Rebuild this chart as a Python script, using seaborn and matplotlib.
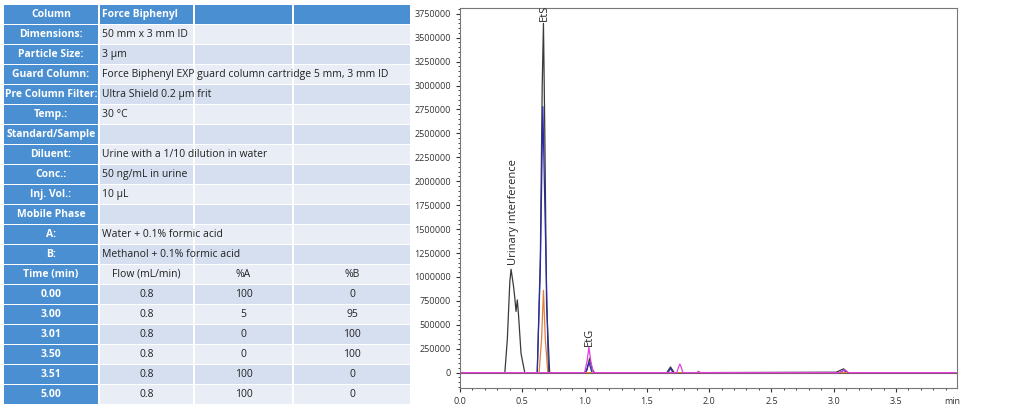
import numpy as np
import pandas as pd
import matplotlib
matplotlib.use("Agg")
import matplotlib.pyplot as plt
from matplotlib.patches import Rectangle
from matplotlib.ticker import MultipleLocator, FuncFormatter
import seaborn as sns

sns.set_style("white")
plt.rcParams['font.family'] = ['Open Sans', 'DejaVu Sans']

# chromatogram traces (time in min, signal)
black_t = [0.0, 0.36, 0.38, 0.40, 0.41, 0.43, 0.44, 0.45, 0.46, 0.47, 0.49, 0.52, 0.62, 0.645, 0.66, 0.67, 0.68, 0.695, 0.72,
           1.00, 1.02, 1.04, 1.06, 1.08, 1.66, 1.69, 1.72, 3.02, 3.08, 3.11, 3.98]
black_y = [0, 0, 350000, 950000, 1080000, 900000, 780000, 640000, 760000, 600000, 200000, 0, 0, 1200000, 3000000, 3650000, 2600000, 700000, 0,
           0, 30000, 150000, 40000, 0, 0, 60000, 0, 5000, 40000, 0, 0]
blue_t = [0.0, 0.62, 0.645, 0.665, 0.685, 0.71, 1.01, 1.035, 1.06, 1.67, 1.69, 1.71, 3.05, 3.08, 3.11, 3.98]
blue_y = [0, 0, 1100000, 2780000, 1500000, 0, 0, 110000, 0, 0, 45000, 0, 0, 25000, 0, 0]
orange_t = [0.0, 0.635, 0.655, 0.67, 0.685, 0.705, 3.98]
orange_y = [0, 0, 350000, 860000, 350000, 0, 0]
magenta_t = [0.0, 1.00, 1.02, 1.035, 1.05, 1.07, 1.74, 1.755, 1.765, 1.775, 1.79, 1.90, 1.915, 1.93, 3.04, 3.09, 3.12, 3.98]
magenta_y = [0, 0, 120000, 265000, 120000, 0, 0, 60000, 90000, 60000, 0, 0, 15000, 0, 0, 30000, 0, 0]

traces = [(black_t, black_y, "#3a3a3a"), (blue_t, blue_y, "#2b2ba8"),
          (orange_t, orange_y, "#e0803a"), (magenta_t, magenta_y, "#e040e0")]

# method table
labels = ["Column", "Dimensions:", "Particle Size:", "Guard Column:", "Pre Column Filter:", "Temp.:",
          "Standard/Sample", "Diluent:", "Conc.:", "Inj. Vol.:", "Mobile Phase", "A:", "B:", "Time (min)",
          "0.00", "3.00", "3.01", "3.50", "3.51", "5.00"]
values = ["Force Biphenyl", "50 mm x 3 mm ID", "3 µm", "Force Biphenyl EXP guard column cartridge 5 mm, 3 mm ID",
          "Ultra Shield 0.2 µm frit", "30 °C", "", "Urine with a 1/10 dilution in water", "50 ng/mL in urine",
          "10 µL", "", "Water + 0.1% formic acid", "Methanol + 0.1% formic acid"]
grad_head = ["Flow (mL/min)", "%A", "%B"]
grad_flow = ["0.8", "0.8", "0.8", "0.8", "0.8", "0.8"]
grad_a = ["100", "5", "0", "0", "100", "100"]
grad_b = ["0", "95", "100", "100", "0", "0"]

fig = plt.figure(figsize=(10.24, 4.12), dpi=100)

# ---- table drawn in pixel coordinates
tax = fig.add_axes([0, 0, 420 / 1024, 1])
tax.set_xlim(0, 420)
tax.set_ylim(412, 0)
tax.axis("off")
dark = "#4a8fd2"
lights = ["#d5dff0", "#e8edf6"]
cols = [(4, 98), (100, 193), (195, 292), (294, 410)]
row_top = 5
row_h = 20.0
for i, lab in enumerate(labels):
    y0 = row_top + i * row_h
    h = row_h - 1.5
    for j, (x0, x1) in enumerate(cols):
        c = dark if (i == 0 or j == 0) else lights[i % 2]
        tax.add_patch(Rectangle((x0, y0), x1 - x0, h, color=c, lw=0))
    tax.text((cols[0][0] + cols[0][1]) / 2, y0 + h / 2, lab, color="white", fontsize=7.5,
             fontweight="bold", ha="center", va="center")
    if i < len(values):
        tax.text(cols[1][0] + 2, y0 + h / 2, values[i], color="white" if i == 0 else "#222222",
                 fontsize=7.5, fontweight="bold" if i == 0 else "normal", ha="left", va="center")
    elif i == 13:
        for j, s in enumerate(grad_head):
            tax.text((cols[j + 1][0] + cols[j + 1][1]) / 2, y0 + h / 2, s, fontsize=7.5,
                     color="#222222", ha="center", va="center")
    else:
        k = i - 14
        for j, s in enumerate([grad_flow[k], grad_a[k], grad_b[k]]):
            tax.text((cols[j + 1][0] + cols[j + 1][1]) / 2, y0 + h / 2, s, fontsize=7.5,
                     color="#222222", ha="center", va="center")

# ---- chromatogram
ax = fig.add_axes([460 / 1024, 24 / 412, 497 / 1024, 380 / 412])
for t, y, c in traces:
    df = pd.DataFrame({"t": t, "y": y})
    sns.lineplot(data=df, x="t", y="y", color=c, lw=0.9, ax=ax)
ax.axhline(0, color="#555555", lw=0.8, zorder=0)
ax.set_xlim(0, 3.99)
ax.set_ylim(-160000, 3810000)
ax.xaxis.set_minor_locator(MultipleLocator(0.1))
ax.yaxis.set_major_locator(MultipleLocator(250000))
ax.yaxis.set_minor_locator(MultipleLocator(50000))
ax.yaxis.set_major_formatter(FuncFormatter(lambda v, p: f"{int(round(v))}"))
ax.set_xticks(np.arange(0, 3.6, 0.5))
ax.set_xticklabels([f"{v:.1f}" for v in np.arange(0, 3.6, 0.5)])
ax.tick_params(which="major", length=3, labelsize=6.5, colors="#333333", direction="out")
ax.tick_params(which="minor", length=1.5, direction="out")
ax.tick_params(left=True, bottom=True, which="both")
ax.set_xlabel("")
ax.set_ylabel("")
for s in ax.spines.values():
    s.set_color("#777777")
    s.set_linewidth(0.8)
ax.text(3.95, -0.035, "min", transform=ax.get_xaxis_transform(), fontsize=6.5, ha="center", va="center", color="#333333")
ax.text(0.43, 1130000, "Urinary interference", rotation=90, fontsize=8, ha="center", va="bottom")
ax.text(0.675, 3670000, "EtS", rotation=90, fontsize=8, ha="center", va="bottom")
ax.text(1.04, 280000, "EtG", rotation=90, fontsize=8, ha="center", va="bottom")

fig.savefig("out.png", dpi=100)
